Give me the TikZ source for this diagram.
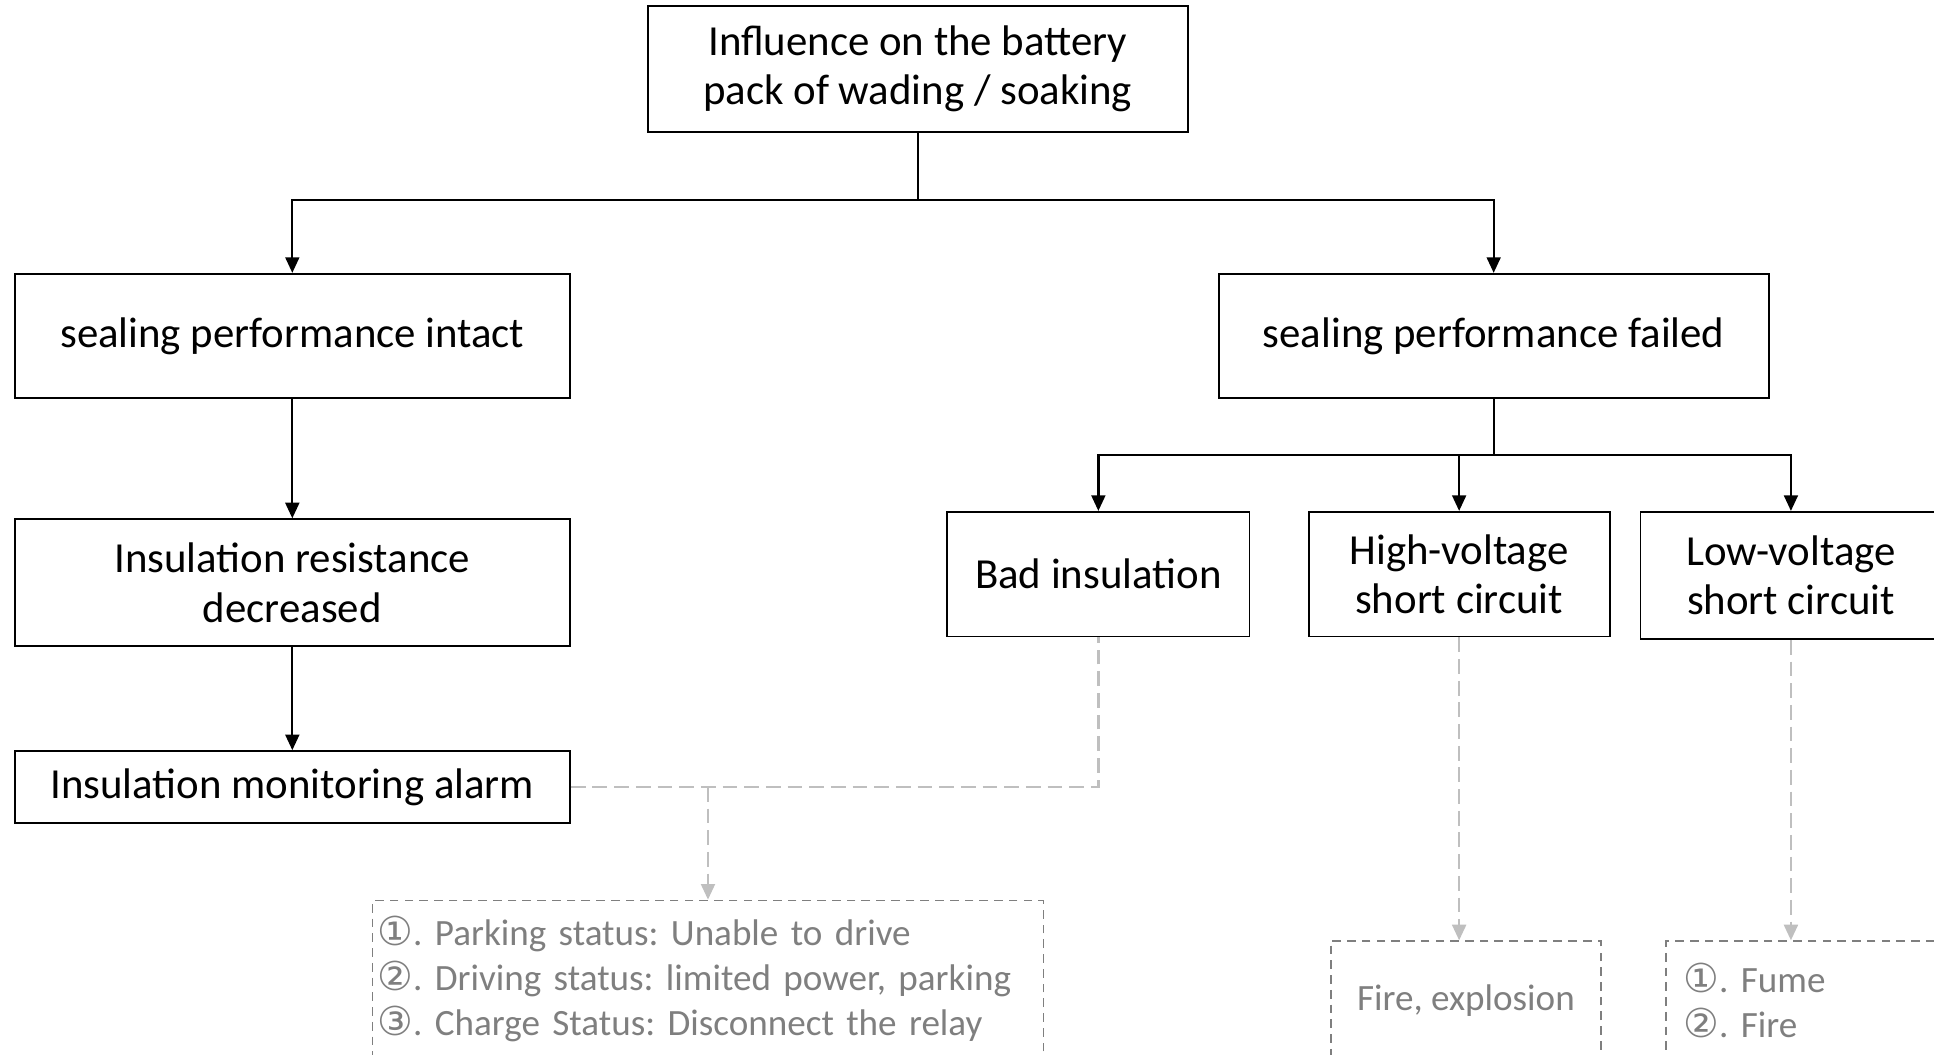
\documentclass[tikz,border=0pt]{standalone}
\usepackage{fontspec}
\setmainfont{Carlito}
\newfontfamily\circfont{DejaVu Sans}
\usepackage{xcolor}
\definecolor{link-gray}{RGB}{191,191,191}
\definecolor{note-gray}{RGB}{127,127,127}
\usetikzlibrary{arrows.meta,positioning}
\newcommand{\circnum}[1]{{\circfont\fontsize{23}{26}\selectfont #1}}
\frenchspacing

\begin{document}
\begin{tikzpicture}[
    main box/.style={
        draw=black,
        line width=1.1pt,
        fill=white,
        align=center,
        inner sep=2pt,
        font=\fontsize{24.7}{28.5}\selectfont
    },
    note box/.style={
        draw=note-gray,
        line width=0.9pt,
        dash pattern=on 5pt off 3.5pt,
        text=note-gray,
        align=left,
        inner xsep=0.1cm,
        font=\fontsize{21.4}{26}\selectfont
    },
    arrow/.style={-{Triangle[length=9pt,width=8pt]}, line width=1.3pt},
    link/.style={link-gray, line width=1.4pt, dash pattern=on 8.5pt off 4pt},
    link arrow/.style={link, -{Triangle[length=9pt,width=8pt]}}
]
\useasboundingbox (0,0) rectangle (39.2,-21.375);

% Root
\node[main box, minimum width=10.95cm, minimum height=2.55cm] (root) at (18.6,-1.4)
    {Influence on the battery\\pack of wading / soaking};

% Left branch
\node[main box, minimum width=11.25cm, minimum height=2.525cm] (intact) at (5.925,-6.8125)
    {sealing performance intact};
\node[main box, minimum width=11.25cm, minimum height=2.575cm] (resist) at (5.925,-11.8125)
    {Insulation resistance\\decreased};
\node[main box, minimum width=11.25cm, minimum height=1.45cm] (alarm) at (5.925,-15.95)
    {Insulation monitoring alarm};

% Right branch
\node[main box, minimum width=11.15cm, minimum height=2.525cm] (failed) at (30.275,-6.8125)
    {sealing performance failed};
\node[main box, minimum width=6.125cm, minimum height=2.525cm] (badins) at (22.2625,-11.6375)
    {Bad insulation};
\node[main box, minimum width=6.1cm, minimum height=2.525cm] (hvshort) at (29.575,-11.6375)
    {High-voltage\\short circuit};
\node[main box, minimum width=6.1cm, minimum height=2.575cm] (lvshort) at (36.3,-11.6625)
    {Low-voltage\\short circuit};

% Consequences
\node[note box, minimum height=3.2cm, text width=13.4cm] (status) at (14.35,-19.85)
    {\circnum{①}. Parking status: Unable to drive\\
     \circnum{②}. Driving status: limited power, parking\\
     \circnum{③}. Charge Status: Disconnect the relay};
\node[note box, align=center, minimum width=5.475cm, minimum height=2.4cm] (fire) at (29.7125,-20.275)
    {Fire, explosion};
\node[note box, minimum height=2.4cm, text width=5.3cm, inner xsep=0.35cm] (fume) at (36.77,-20.275)
    {\circnum{①}. Fume\\\circnum{②}. Fire};

% Arrows
\coordinate (rootsplit) at (18.6,-4.05);
\coordinate (failsplit) at (30.275,-9.225);
\draw[line width=1.3pt] (root.south) -- (rootsplit);
\draw[arrow] (rootsplit) -| (intact.north);
\draw[arrow] (rootsplit) -| (failed.north);
\draw[arrow] (intact.south) -- (resist.north);
\draw[arrow] (resist.south) -- (alarm.north);
\draw[line width=1.3pt] (failed.south) -- (failsplit);
\draw[arrow] (failsplit) -| (badins.north);
\draw[arrow] (failsplit) -| (hvshort.north);
\draw[arrow] (failsplit) -| (lvshort.north);

% Dashed links
\draw[link] (alarm.east) -| (badins.south);
\draw[link arrow] (status.north |- alarm.east) -- (status.north);
\draw[link arrow] (hvshort.south) -- (hvshort.south |- fire.north);
\draw[link arrow] (lvshort.south) -- (lvshort.south |- fume.north);

\end{tikzpicture}
\end{document}
